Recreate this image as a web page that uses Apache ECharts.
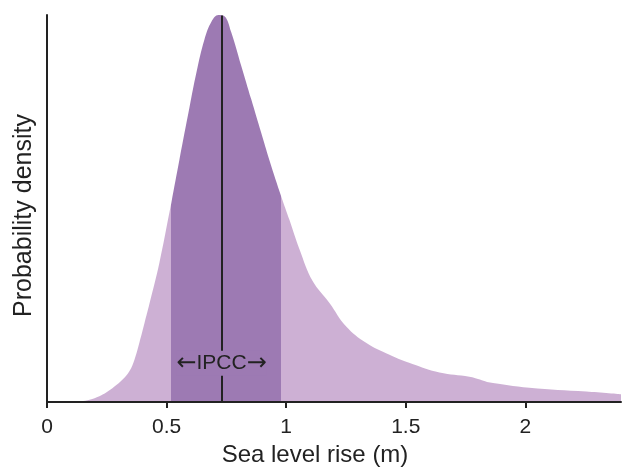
<!DOCTYPE html>
<html>
<head>
<meta charset="utf-8">
<script src="https://cdn.jsdelivr.net/npm/echarts@6/dist/echarts.min.js"></script>
<style>html,body{margin:0;padding:0;background:#fff}#c{width:622px;height:468px}</style>
</head>
<body>
<div id="c"></div>
<script>
// Sea level rise (m) sample points and probability density (normalized to peak)
var seaLevel = [0.123, 0.178, 0.219, 0.249, 0.282, 0.316, 0.345, 0.366, 0.387, 0.408, 0.428, 0.470, 0.512, 0.520, 0.554, 0.596, 0.625, 0.658, 0.688, 0.717, 0.742, 0.770, 0.812, 0.854, 0.895, 0.930, 0.980, 1.014, 1.056, 1.110, 1.181, 1.251, 1.334, 1.432, 1.528, 1.641, 1.766, 1.810, 1.840, 2.017, 2.255, 2.400];
var density  = [0.000, 0.006, 0.015, 0.025, 0.040, 0.058, 0.080, 0.110, 0.155, 0.205, 0.253, 0.360, 0.490, 0.515, 0.627, 0.762, 0.852, 0.936, 0.983, 1.000, 0.997, 0.956, 0.869, 0.782, 0.697, 0.625, 0.530, 0.470, 0.394, 0.313, 0.256, 0.195, 0.153, 0.122, 0.098, 0.076, 0.065, 0.058, 0.052, 0.037, 0.027, 0.020];
var ipccRange = [0.52, 0.98];
var median = 0.73;
var xTicks = [0, 0.5, 1, 1.5, 2];

var light = '#cdb0d4';
var dark = '#9d7ab3';
var ink = '#222222';
var font = '"Liberation Sans", Arial, Helvetica, sans-serif';

var pts = seaLevel.map(function (x, i) { return [x, density[i]]; });

var chart = echarts.init(document.getElementById('c'), null, {renderer: 'canvas'});
chart.setOption({
  animation: false,
  grid: {left: 47, right: 1, top: 15, bottom: 66, containLabel: false, outerBoundsMode: 'none'},
  visualMap: {
    show: false,
    type: 'piecewise',
    dimension: 0,
    seriesIndex: 0,
    pieces: [
      {lt: ipccRange[0], color: light},
      {gte: ipccRange[0], lte: ipccRange[1], color: dark},
      {gt: ipccRange[1], color: light}
    ]
  },
  xAxis: {
    type: 'value', min: 0, max: 2.4, interval: 0.5, z: 5,
    name: 'Sea level rise (m)', nameLocation: 'middle', nameGap: 38,
    nameTextStyle: {fontFamily: font, fontSize: 24, color: ink, padding: [0, 38, 0, 0]},
    axisLine: {show: true, lineStyle: {color: ink, width: 2}},
    axisTick: {show: true, length: 6, lineStyle: {color: ink, width: 2}, customValues: xTicks},
    axisLabel: {fontFamily: font, fontSize: 21, color: ink, margin: 15, customValues: xTicks,
      formatter: function (v) { return String(v); }},
    splitLine: {show: false}
  },
  yAxis: {
    type: 'value', min: 0, max: 1.0, z: 5,
    name: 'Probability density', nameLocation: 'middle', nameGap: 10,
    nameTextStyle: {fontFamily: font, fontSize: 25, color: ink, padding: [0, 14, 0, 0]},
    axisLine: {show: true, lineStyle: {color: ink, width: 2}},
    axisTick: {show: false}, axisLabel: {show: false}, splitLine: {show: false}
  },
  series: [{
    type: 'line',
    data: pts,
    smooth: 0.4,
    showSymbol: false,
    lineStyle: {width: 0},
    areaStyle: {opacity: 1},
    z: 2,
    markLine: {
      silent: true, symbol: 'none', animation: false,
      label: {show: false},
      lineStyle: {color: ink, width: 2, type: 'solid'},
      data: [[{coord: [median, 0]}, {coord: [median, 0.999]}]]
    },
    markPoint: {
      silent: true, symbol: 'rect', symbolSize: [1, 1],
      itemStyle: {color: 'rgba(0,0,0,0)'},
      label: {show: true, position: 'inside',
        formatter: '{a|\u2190}IPCC{a|\u2192}',
        fontFamily: font, fontSize: 21, color: ink, backgroundColor: dark,
        lineHeight: 25, padding: [0, 0],
        rich: {a: {fontFamily: '"DejaVu Sans", sans-serif', fontSize: 24, color: ink, lineHeight: 25}}},
      data: [{coord: [median, 0.1]}]
    }
  }]
});
</script>
</body>
</html>
